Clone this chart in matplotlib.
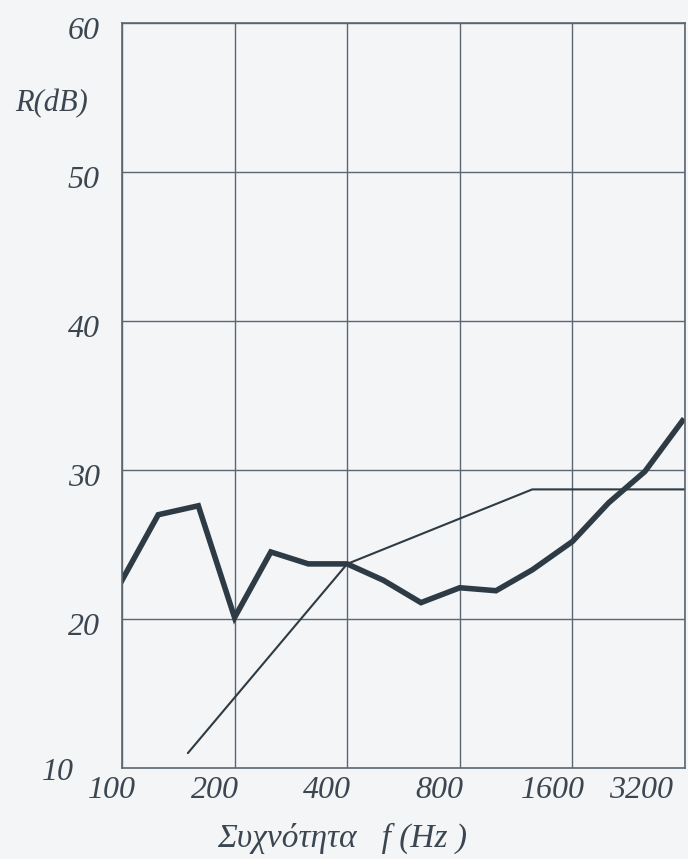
import matplotlib.pyplot as plt
import matplotlib.transforms as mtransforms

# measured sound reduction index, third-octave bands
freq = [100, 125, 160, 200, 250, 315, 400, 500, 630, 800, 1000, 1250, 1600, 2000, 2500, 3150]
R_db = [22.6, 27.0, 27.6, 20.1, 24.5, 23.7, 23.7, 22.6, 21.1, 22.1, 21.9, 23.3, 25.2, 27.8, 29.9, 33.3]

# shifted reference curve
ref_freq = [150, 400, 1250, 3200]
ref_db = [11.0, 23.7, 28.7, 28.7]

xticks = [100, 200, 400, 800, 1600, 3200]
xlabels = ['100', '200', '400', '800', '1600', '3200']
x_shift = [-10, -20, -20, -20, -20, -44]   # px, labels sit left of their grid lines
yticks = [20, 30, 40, 50, 60]
ylabels = ['20', '30', '40', '50', '60']

ink = '#2e3b44'
txt = '#3c4650'
grid_c = '#5c6670'
bg = '#f3f5f7'

plt.rcParams['font.family'] = ['Liberation Serif', 'DejaVu Serif']
plt.rcParams['font.style'] = 'italic'

fig = plt.figure(figsize=(6.88, 8.59), dpi=100, facecolor=bg)
ax = fig.add_axes([0.1773, 0.1059, 0.8183, 0.8673])
ax.set_facecolor(bg)

ax.set_xscale('log')
ax.set_xlim(100, 3200)
ax.set_ylim(10, 60)

ax.plot(ref_freq, ref_db, color=ink, lw=1.5, solid_capstyle='round')
ax.plot(freq, R_db, color=ink, lw=4.0, solid_joinstyle='miter')

ax.set_xticks(xticks)
ax.set_xticklabels(xlabels, fontsize=23, color=txt)
ax.xaxis.set_minor_locator(plt.NullLocator())
ax.set_yticks(yticks)
ax.set_yticklabels(ylabels, fontsize=23, color=txt)
ax.tick_params(length=0)
ax.tick_params(axis='x', pad=6)
ax.tick_params(axis='y', pad=16)

for lab, dx in zip(ax.get_xticklabels(), x_shift):
    lab.set_transform(lab.get_transform() + mtransforms.ScaledTranslation(dx / 100, 0, fig.dpi_scale_trans))
for lab in ax.get_yticklabels():
    lab.set_transform(lab.get_transform() + mtransforms.ScaledTranslation(0, -5 / 100, fig.dpi_scale_trans))

ax.text(-0.085, 10, '10', transform=ax.get_yaxis_transform() + mtransforms.ScaledTranslation(0, -4 / 100, fig.dpi_scale_trans),
        fontsize=23, color=txt, ha='right', va='center')

ax.grid(True, which='major', color=grid_c, lw=1.0)
for s in ax.spines.values():
    s.set_color(grid_c)
    s.set_linewidth(1.2)

fig.text(0.075, 0.88, 'R(dB)', fontsize=22, color=txt, ha='center', va='center')
fig.text(0.497, 0.024, 'Συχνότητα   f (Hz )', fontsize=24, color=txt, ha='center', va='center')

fig.savefig('out.png', dpi=100, facecolor=bg)
